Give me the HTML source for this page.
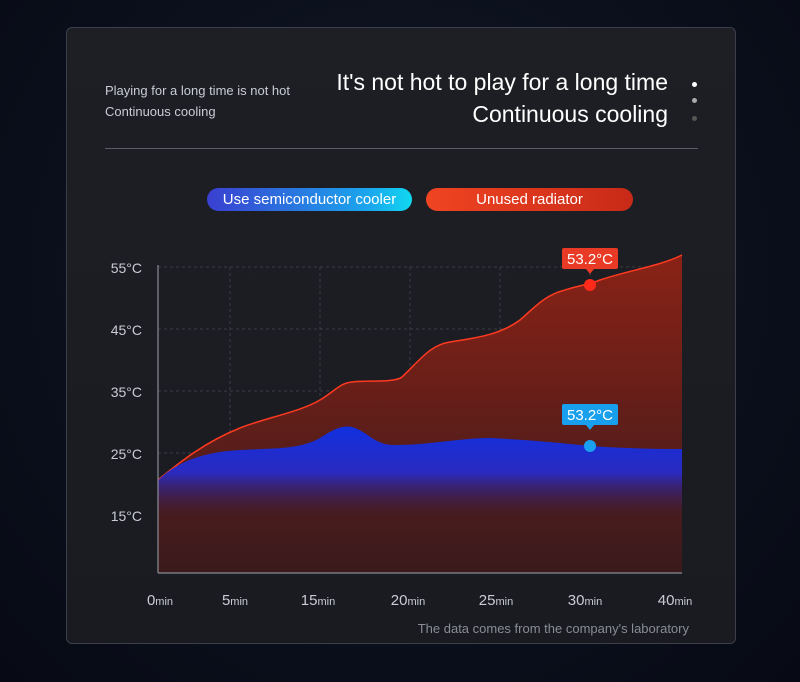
<!DOCTYPE html>
<html><head><style>
body{margin:0;width:800px;height:682px;background:radial-gradient(ellipse at 50% 40%,#121826 0%,#0a0e1a 70%,#070a14 100%);font-family:"Liberation Sans",sans-serif;overflow:hidden;position:relative}
.card{position:absolute;left:66px;top:27px;width:670px;height:617px;background:linear-gradient(#1d1f25,#191b21);border:1px solid #3a3f4a;border-radius:6px;box-sizing:border-box}
.t{position:absolute;color:#fff;white-space:nowrap}
</style></head><body>
<div class="card"></div>
<div class="t" style="left:105px;top:83px;font-size:13px;color:#c9ccd2">Playing for a long time is not hot</div>
<div class="t" style="left:105px;top:104px;font-size:13px;color:#c9ccd2">Continuous cooling</div>
<div class="t" style="right:132px;top:69px;font-size:23px">It's not hot to play for a long time</div>
<div class="t" style="right:132px;top:101px;font-size:23px">Continuous cooling</div>
<div style="position:absolute;left:692px;top:82px;width:5px;height:5px;border-radius:50%;background:#fff"></div>
<div style="position:absolute;left:692px;top:98px;width:5px;height:5px;border-radius:50%;background:#aaa"></div>
<div style="position:absolute;left:692px;top:116px;width:5px;height:5px;border-radius:50%;background:#555"></div>
<div style="position:absolute;left:105px;top:148px;width:593px;height:1px;background:#5a5e66"></div>
<div class="t" style="left:207px;top:188px;width:205px;height:23px;border-radius:12px;background:linear-gradient(90deg,#3a3fd0,#1aa8ee 80%,#10d8f0);font-size:15px;line-height:23px;text-align:center">Use semiconductor cooler</div>
<div class="t" style="left:426px;top:188px;width:207px;height:23px;border-radius:12px;background:linear-gradient(90deg,#f04422,#c82a18);font-size:15px;line-height:23px;text-align:center">Unused radiator</div>
<svg style="position:absolute;left:0;top:0" width="800" height="682">
<defs>
<linearGradient id="rg" x1="0" y1="0" x2="0" y2="1"><stop offset="0" stop-color="#8a2216"/><stop offset="1" stop-color="#3a1a1c"/></linearGradient>
<linearGradient id="bg" x1="0" y1="425" x2="0" y2="520" gradientUnits="userSpaceOnUse"><stop offset="0" stop-color="#1030e0"/><stop offset="0.5" stop-color="#2a2ac0"/><stop offset="1" stop-color="#3a1a40" stop-opacity="0"/></linearGradient>
</defs>
<g stroke="#3a3d44" stroke-dasharray="3 3" stroke-width="1">
<line x1="158" y1="267" x2="682" y2="267"/><line x1="158" y1="329" x2="682" y2="329"/><line x1="158" y1="391" x2="682" y2="391"/><line x1="158" y1="453" x2="682" y2="453"/><line x1="158" y1="515" x2="682" y2="515"/>
<line x1="230" y1="267" x2="230" y2="573"/><line x1="320" y1="267" x2="320" y2="573"/><line x1="410" y1="267" x2="410" y2="573"/><line x1="500" y1="267" x2="500" y2="573"/><line x1="590" y1="267" x2="590" y2="573"/>
</g>
<path d="M158,480 C180,462 205,442 240,428 C265,418 300,412 320,400 C335,391 340,383 352,382 C365,380 395,383 402,377 C420,360 430,345 450,342 C475,338 500,335 520,320 C535,307 545,295 565,290 C580,285 588,285 600,280 C630,270 660,266 682,255 L682,573 L158,573 Z" fill="url(#rg)"/>
<path d="M158,480 C180,462 205,442 240,428 C265,418 300,412 320,400 C335,391 340,383 352,382 C365,380 395,383 402,377 C420,360 430,345 450,342 C475,338 500,335 520,320 C535,307 545,295 565,290 C580,285 588,285 600,280 C630,270 660,266 682,255" fill="none" stroke="#ff3a20" stroke-width="1.5"/>
<path d="M158,480 C180,460 205,452 240,450 C280,448 300,449 320,438 C335,428 345,424 355,428 C370,434 375,445 395,445 C430,445 460,438 490,438 C530,440 560,443 590,446 C620,448 650,449 682,449 L682,573 L158,573 Z" fill="url(#bg)"/>
<line x1="158" y1="265" x2="158" y2="573" stroke="#8a8d94" stroke-width="1.2"/>
<line x1="158" y1="573" x2="682" y2="573" stroke="#8a8d94" stroke-width="1.2"/>
<circle cx="590" cy="285" r="6" fill="#ff2a1a"/>
<circle cx="590" cy="446" r="6" fill="#1aa0f0"/>
<rect x="562" y="248" width="56" height="21" rx="2" fill="#e83a24"/><path d="M586,269 L590,274 L594,269Z" fill="#e83a24"/>
<text x="590" y="264" font-size="15" fill="#fff" text-anchor="middle" font-family="Liberation Sans">53.2°C</text>
<rect x="562" y="404" width="56" height="21" rx="2" fill="#18a0ee"/><path d="M586,425 L590,430 L594,425Z" fill="#18a0ee"/>
<text x="590" y="420" font-size="15" fill="#fff" text-anchor="middle" font-family="Liberation Sans">53.2°C</text>
<g font-size="14" fill="#c9ccd2" font-family="Liberation Sans" text-anchor="end">
<text x="142" y="273">55°C</text><text x="142" y="335">45°C</text><text x="142" y="397">35°C</text><text x="142" y="459">25°C</text><text x="142" y="521">15°C</text>
</g>
<g font-size="15" fill="#c9ccd2" font-family="Liberation Sans" text-anchor="middle">
<text x="160" y="605">0<tspan font-size="11">min</tspan></text>
<text x="235" y="605">5<tspan font-size="11">min</tspan></text>
<text x="318" y="605">15<tspan font-size="11">min</tspan></text>
<text x="408" y="605">20<tspan font-size="11">min</tspan></text>
<text x="496" y="605">25<tspan font-size="11">min</tspan></text>
<text x="585" y="605">30<tspan font-size="11">min</tspan></text>
<text x="675" y="605">40<tspan font-size="11">min</tspan></text>
</g>
<text x="689" y="633" font-size="13" fill="#8a8d94" text-anchor="end" font-family="Liberation Sans">The data comes from the company's laboratory</text>
</svg>
</body></html>
